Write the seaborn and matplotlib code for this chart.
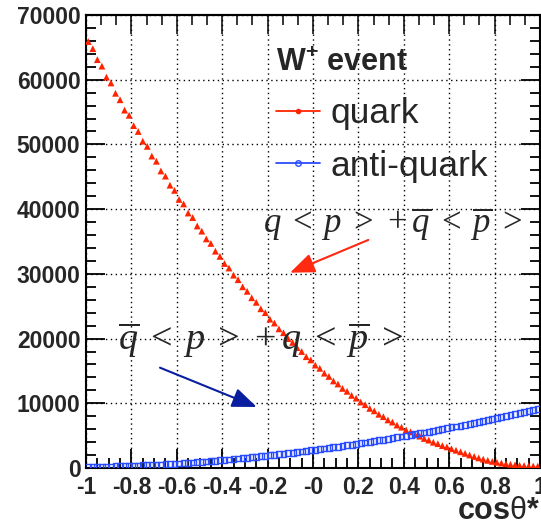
import numpy as np
import pandas as pd
import matplotlib
matplotlib.use("Agg")
import matplotlib.pyplot as plt
import seaborn as sns
from matplotlib.lines import Line2D
from matplotlib.ticker import FixedLocator, MultipleLocator

# cos(theta*) histogram: 100 bins on [-1, 1]
n_bins = 100
x_range = (-1.0, 1.0)

quark = [
    65900, 64800, 63100, 62100, 60400, 59500, 57900, 56900, 55300, 54500,
    52900, 52000, 50500, 49700, 48200, 47400, 45900, 45100, 43700, 42900,
    41500, 40800, 39400, 38700, 37400, 36600, 35400, 34700, 33500, 32700,
    31600, 30900, 29800, 29100, 28000, 27300, 26300, 25600, 24600, 24000,
    23000, 22400, 21500, 20900, 20000, 19400, 18600, 18000, 17200, 16700,
    15900, 15400, 14650, 14150, 13450, 12980, 12300, 11850, 11220, 10790,
    10190, 9780, 9210, 8830, 8300, 7930, 7430, 7100, 6630, 6310,
    5880, 5590, 5190, 4920, 4560, 4310, 3980, 3760, 3460, 3260,
    2980, 2740, 2500, 2260, 2010, 1780, 1560, 1360, 1180, 1020,
    880, 760, 650, 560, 480, 420, 370, 330, 300, 280,
]

anti_quark = [
    120, 150, 170, 190, 220, 240, 250, 280, 300, 320,
    350, 370, 400, 430, 460, 490, 520, 560, 600, 650,
    700, 740, 800, 850, 900, 960, 1010, 1080, 1130, 1200,
    1260, 1320, 1390, 1460, 1520, 1600, 1670, 1740, 1820, 1890,
    1970, 2050, 2130, 2210, 2300, 2380, 2470, 2550, 2640, 2740,
    2820, 2920, 3020, 3110, 3210, 3310, 3410, 3510, 3620, 3720,
    3830, 3940, 4050, 4160, 4270, 4390, 4500, 4620, 4740, 4860,
    4980, 5100, 5230, 5350, 5480, 5610, 5740, 5870, 6010, 6140,
    6280, 6420, 6550, 6700, 6840, 6980, 7130, 7270, 7420, 7570,
    7720, 7870, 8030, 8180, 8340, 8500, 8660, 8820, 8980, 9150,
]

x_ticks = [-1.0, -0.8, -0.6, -0.4, -0.2, 0.0, 0.2, 0.4, 0.6, 0.8, 1.0]
x_tick_labels = ["-1", "-0.8", "-0.6", "-0.4", "-0.2", "-0", "0.2", "0.4", "0.6", "0.8", "1"]
y_ticks = [0, 10000, 20000, 30000, 40000, 50000, 60000, 70000]
y_tick_labels = ["0", "10000", "20000", "30000", "40000", "50000", "60000", "70000"]

legend_title = r"$\mathbf{W^{+}}$ event"
series_labels = ["quark", "anti-quark"]
formula_q = r"$q\;<\;p\;>\,+\overline{q}\;<\;\overline{p}\;>$"
formula_qbar = r"$\overline{q}\;<\;p\;>\,+q\;<\;\overline{p}\;>$"

RED = "#ff2400"
BLUE = "#2a4cff"
RED_ARROW = "#ff2a10"
BLUE_ARROW = "#0a1ea0"

edges = np.linspace(x_range[0], x_range[1], n_bins + 1)
centers = 0.5 * (edges[:-1] + edges[1:])
df = pd.DataFrame({
    "cos_theta": np.concatenate([centers, centers]),
    "events": quark + anti_quark,
    "parton": ["quark"] * n_bins + ["anti-quark"] * n_bins,
})

sns.set_theme(style="ticks")
plt.rcParams.update({
    "font.family": ["Liberation Sans", "DejaVu Sans"],
    "mathtext.fontset": "custom",
    "mathtext.rm": "Liberation Serif",
    "mathtext.it": "Liberation Serif:italic",
    "mathtext.bf": "Liberation Sans:bold",
    "mathtext.sf": "Liberation Sans",
    "axes.linewidth": 1.5,
    "axes.edgecolor": "black",
})

fig = plt.figure(figsize=(5.41, 5.30), dpi=100)
ax = fig.add_axes([86 / 541, 62 / 530, 454 / 541, 453 / 530])

sns.scatterplot(data=df[df.parton == "quark"], x="cos_theta", y="events",
                marker="^", s=24, color=RED, edgecolor="none", ax=ax,
                legend=False, zorder=3)
sns.scatterplot(data=df[df.parton == "anti-quark"], x="cos_theta", y="events",
                marker="s", s=18, color=BLUE, facecolor="none", edgecolor=BLUE,
                linewidth=1.0, ax=ax, legend=False, zorder=3)

ax.set_xlim(*x_range)
ax.set_ylim(y_ticks[0], y_ticks[-1])

# axis ticks, ROOT style: inward on all four sides
ax.xaxis.set_major_locator(FixedLocator(x_ticks))
ax.set_xticklabels(x_tick_labels, fontsize=16.5, fontweight="bold")
ax.yaxis.set_major_locator(FixedLocator(y_ticks))
ax.set_yticklabels(y_tick_labels, fontsize=16.5, fontweight="bold")
ax.xaxis.set_minor_locator(MultipleLocator(0.05))
ax.yaxis.set_minor_locator(MultipleLocator(2000))
ax.tick_params(which="both", direction="in", right=True, top=False, width=1.3, color="black")
ax.tick_params(which="major", length=14)
ax.tick_params(which="minor", length=7)
ax.tick_params(axis="x", which="major", pad=6)
ax.tick_params(axis="y", which="major", pad=4)

top = ax.secondary_xaxis("top")
top.xaxis.set_major_locator(FixedLocator(x_ticks))
top.xaxis.set_minor_locator(MultipleLocator(0.2 / 3))
top.tick_params(which="both", direction="in", labeltop=False, width=1.3)
top.tick_params(which="major", length=14)
top.tick_params(which="minor", length=7)
top.spines["top"].set_linewidth(1.5)

ax.grid(True, which="major", color="black", linestyle=(0, (1, 2.5)), linewidth=1.0)
ax.set_axisbelow(True)

ax.set_ylabel("")
ax.set_xlabel(r"$\mathbf{cos}\mathsf{\theta}$*", fontsize=22, fontweight="bold", loc="right")
ax.xaxis.set_label_coords(1.0, -0.062)

handles = [
    Line2D([], [], color=RED, lw=1.3, marker="o", ms=3, mec=RED, mfc=RED),
    Line2D([], [], color=BLUE, lw=1.3, marker="o", ms=4, mec=BLUE, mfc="none", mew=1),
]
leg = ax.legend(handles, series_labels, title=legend_title, loc="upper left",
                bbox_to_anchor=(0.418, 0.928), frameon=False, fontsize=25.5,
                handlelength=1.25, handletextpad=0.3, labelspacing=0.55,
                borderpad=0, borderaxespad=0, alignment="left",
                title_fontproperties={"weight": "bold", "size": 22})

ax.text(-0.22, 36320, formula_q, fontsize=25, va="baseline", ha="left")
ax.text(-0.859, 18240, formula_qbar, fontsize=27.5, va="baseline", ha="left")

ax.annotate("", xy=(-0.101, 30185), xytext=(0.2436, 35240),
            arrowprops=dict(arrowstyle="-|>,head_length=1.0,head_width=0.4",
                            color=RED_ARROW, lw=1.5, mutation_scale=15,
                            shrinkA=0, shrinkB=0))
ax.annotate("", xy=(-0.248, 9430), xytext=(-0.674, 15500),
            arrowprops=dict(arrowstyle="-|>,head_length=1.0,head_width=0.4",
                            color=BLUE_ARROW, lw=1.5, mutation_scale=15,
                            shrinkA=0, shrinkB=0))

fig.savefig("out.png", dpi=100)
